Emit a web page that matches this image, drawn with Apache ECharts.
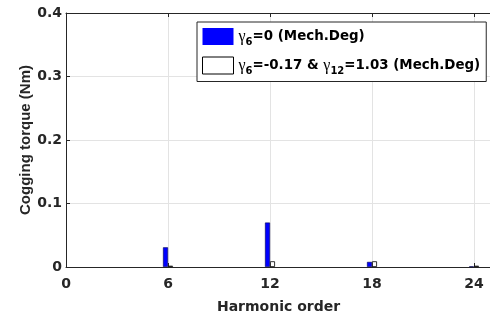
<!DOCTYPE html>
<html>
<head>
<meta charset="utf-8">
<script src="https://cdn.jsdelivr.net/npm/echarts@6/dist/echarts.min.js"></script>
<style>html,body{margin:0;padding:0;background:#fff;}#c{width:490px;height:318px;}</style>
</head>
<body>
<div id="c"></div>
<script>
var harmonics = [6, 12, 18, 24];
var seriesA = [0.031, 0.070, 0.008, 0.001];   // γ6=0
var seriesB = [0.002, 0.009, 0.009, 0.002];   // γ6=-0.17 & γ12=1.03
var xTicks = [0, 6, 12, 18, 24];
var yTicks = [0, 0.1, 0.2, 0.3, 0.4];
var nameA = 'A';
var nameB = 'B';

function pairs(xs, ys) { return xs.map(function (x, i) { return [x, ys[i]]; }); }

var axisColor = '#262626';
var font = 'DejaVu Sans';
var chart = echarts.init(document.getElementById('c'), null, {renderer: 'canvas'});
chart.setOption({
  animation: false,
  backgroundColor: '#fff',
  grid: {left: 66, top: 13, width: 425, bottom: 51, outerBoundsMode: 'none', containLabel: false},
  legend: {
    orient: 'vertical',
    left: 197, top: 22,
    padding: [6, 6, 5, 5],
    itemGap: 9,
    itemWidth: 31, itemHeight: 17,
    backgroundColor: '#fff',
    borderColor: '#262626', borderWidth: 1,
    data: [
      {name: nameA, icon: 'rect', itemStyle: {color: '#0000ff', borderColor: '#0000ff', borderWidth: 0}},
      {name: nameB, icon: 'rect', itemStyle: {color: '#fff', borderColor: '#000', borderWidth: 1}}
    ],
    formatter: function (n) {
      if (n === nameA) return '{g|γ}{s|6}{t|=0 (Mech.Deg)}';
      return '{g|γ}{s|6}{t|=-0.17 & }{g|γ}{s|12}{t|=1.03 (Mech.Deg)}';
    },
    textStyle: {
      rich: {
        g: {fontFamily: 'Liberation Serif', fontSize: 16, color: '#000', lineHeight: 22, verticalAlign: 'middle'},
        s: {fontFamily: font, fontWeight: 'bold', fontSize: 10, color: '#000', lineHeight: 10, verticalAlign: 'bottom'},
        t: {fontFamily: font, fontWeight: 'bold', fontSize: 13.4, color: '#000', lineHeight: 22, verticalAlign: 'middle'}
      }
    }
  },
  xAxis: [{
    type: 'value', min: 0, max: 25, interval: 6,
    name: 'Harmonic order', nameLocation: 'middle', nameGap: 33, nameMoveOverlap: false,
    nameTextStyle: {fontFamily: font, fontWeight: 'bold', fontSize: 14, color: axisColor},
    axisLine: {show: true, lineStyle: {color: axisColor, width: 1}},
    axisTick: {show: true, inside: true, length: 4, lineStyle: {color: axisColor}},
    axisLabel: {fontFamily: font, fontWeight: 'bold', fontSize: 14, color: axisColor, margin: 10,
      formatter: function (v) { return xTicks.indexOf(v) >= 0 ? String(v) : ''; }},
    splitLine: {show: true, lineStyle: {color: '#e3e3e3', width: 1}}
  }, {
    type: 'value', min: 0, max: 25, interval: 6, position: 'top',
    axisLine: {show: true, lineStyle: {color: axisColor, width: 1}},
    axisTick: {show: true, inside: true, length: 4, lineStyle: {color: axisColor}},
    axisLabel: {show: false}, splitLine: {show: false}
  }],
  yAxis: {
    type: 'value', min: 0, max: 0.4, interval: 0.1,
    name: 'Cogging torque (Nm)', nameLocation: 'middle', nameGap: 33, nameMoveOverlap: false,
    nameTextStyle: {fontFamily: 'Liberation Sans', fontWeight: 'bold', fontSize: 15, color: axisColor},
    axisLine: {show: true, lineStyle: {color: axisColor, width: 1}},
    axisTick: {show: true, inside: true, length: 4, lineStyle: {color: axisColor}},
    axisLabel: {fontFamily: font, fontWeight: 'bold', fontSize: 14, color: axisColor, margin: 4,
      formatter: function (v) { var r = Math.round(v * 10) / 10; return yTicks.indexOf(r) >= 0 ? String(r) : ''; }},
    splitLine: {show: true, lineStyle: {color: '#e3e3e3', width: 1}}
  },
  series: [{
    name: nameA, type: 'bar', xAxisIndex: 0,
    barWidth: 5, barGap: '0%',
    itemStyle: {color: '#0000ff', borderColor: '#000050', borderWidth: 0.6},
    data: pairs(harmonics, seriesA)
  }, {
    name: nameB, type: 'bar', xAxisIndex: 0,
    barWidth: 5, barGap: '0%',
    itemStyle: {color: '#ffffff', borderColor: '#000', borderWidth: 0.8},
    data: pairs(harmonics, seriesB)
  }]
});
</script>
</body>
</html>
